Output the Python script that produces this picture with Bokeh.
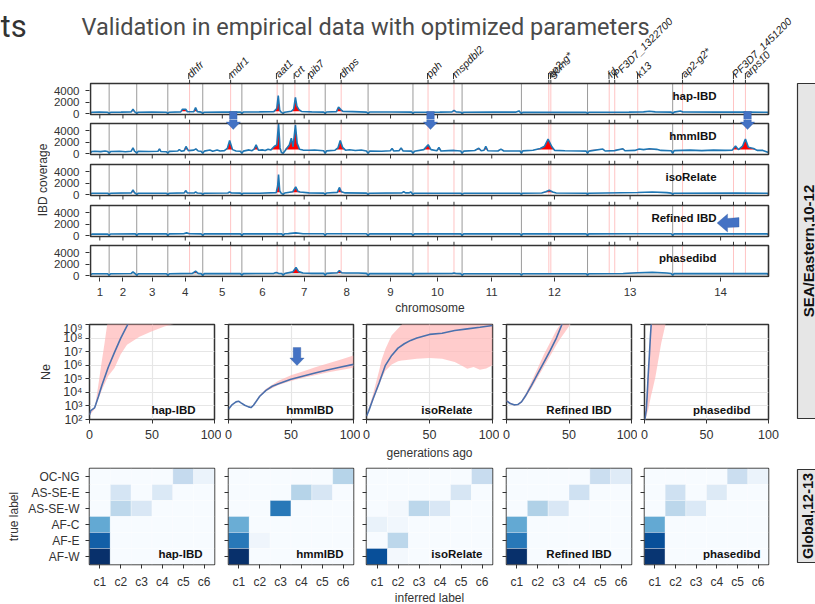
import numpy as np
from bokeh.plotting import figure
from bokeh.layouts import column, row
from bokeh.models import (Range1d, LinearAxis, LogAxis, FixedTicker, CustomJSTickFormatter,
                          PolyAnnotation, LinearColorMapper, ColumnDataSource)
from bokeh.core.properties import value
from bokeh.palettes import Blues9
from bokeh.embed import file_html
from bokeh.resources import INLINE

FONT = "Liberation Sans"
TITLE_FONT = "Roboto"
TXT = "#333333"
FRAME = "#333333"

# ---------------------------------------------------------------- data
chrom_names = [str(i) for i in range(1, 15)]
chrom_len_mb = [0.640851, 0.947102, 1.067971, 1.200490, 1.343557, 1.418242, 1.445207,
                1.472805, 1.541735, 1.687656, 2.038340, 2.271494, 2.925236, 3.291936]

gene_names = ["dhfr", "mdr1", "aat1", "crt", "pib7", "dhps", "pph", "mspdbl2", "ap2-g*", "gcm",
              "fd", "PF3D7_1322700", "k13", "ap2-g2*", "PF3D7_1451200", "arps10"]
gene_pos_mb = [3.404, 4.814, 6.413, 7.022, 7.508, 8.612, 11.596, 12.487, 15.746, 15.815,
               17.820, 18.010, 18.800, 20.340, 22.090, 22.500]

methods = ["hap-IBD", "hmmIBD", "isoRelate", "Refined IBD", "phasedibd"]

# IBD coverage along the genome: (position Mb, coverage)
cov_hapibd = [(0.00,120),(0.05,240),(0.30,260),(0.59,230),(0.641,60),(0.69,230),(1.05,260),(1.40,300),(1.46,770),(1.52,300),
    (1.54,260),(1.588,60),(1.64,240),(2.10,260),(2.61,240),(2.656,60),(2.71,250),(3.10,300),(3.16,770),(3.27,770),(3.33,320),
    (3.55,350),(3.61,1070),(3.67,350),(3.80,260),(3.856,60),(3.91,250),(4.50,270),(5.15,280),(5.200,60),(5.25,280),(5.80,300),
    (6.30,350),(6.40,900),(6.45,3150),(6.50,600),(6.56,220),(6.618,50),(6.67,250),(6.90,420),(6.98,800),(7.04,2850),(7.09,1300),
    (7.16,700),(7.25,380),(7.60,300),(8.01,260),(8.063,60),(8.11,280),(8.45,350),(8.52,1150),(8.60,700),(8.68,360),(9.00,350),
    (9.48,260),(9.536,60),(9.59,280),(10.30,290),(11.03,260),(11.078,60),(11.13,250),(12.00,260),(12.42,300),(12.49,560),
    (12.56,300),(12.72,250),(12.766,60),(12.82,240),(13.80,260),(14.60,260),(14.72,480),(14.76,260),(14.804,60),(14.85,230),
    (16.00,220),(17.03,220),(17.075,60),(17.12,230),(18.50,260),(19.00,300),(19.20,430),(19.40,300),(19.95,260),(20.001,60),
    (20.05,260),(20.27,460),(20.35,280),(21.50,260),(22.50,280),(23.25,240),(23.293,120)]

cov_hmmibd = [(0.00,150),(0.05,380),(0.15,420),(0.35,350),(0.50,460),(0.59,380),(0.641,50),(0.69,360),(1.00,420),(1.20,320),
    (1.40,420),(1.46,1000),(1.52,360),(1.54,380),(1.588,50),(1.64,400),(2.00,360),(2.32,420),(2.37,830),(2.42,360),(2.61,320),
    (2.656,50),(2.71,400),(3.00,460),(3.05,720),(3.12,420),(3.22,520),(3.28,1250),(3.36,520),(3.55,620),(3.62,830),(3.70,460),
    (3.80,420),(3.856,50),(3.91,440),(4.10,650),(4.20,420),(4.35,650),(4.45,460),(4.60,520),(4.70,900),(4.78,2300),(4.88,700),
    (5.00,460),(5.15,420),(5.200,50),(5.25,440),(5.45,650),(5.55,520),(5.62,800),(5.69,1540),(5.77,600),(5.90,650),(6.00,560),
    (6.10,780),(6.20,650),(6.32,1300),(6.40,1500),(6.46,5300),(6.51,1000),(6.56,200),(6.618,50),(6.67,400),(6.83,1500),
    (6.90,2700),(6.96,1200),(7.04,5000),(7.10,1800),(7.18,760),(7.30,620),(7.50,600),(7.70,640),(7.90,560),(8.01,500),
    (8.063,50),(8.11,480),(8.40,600),(8.50,1000),(8.58,2300),(8.66,1100),(8.76,600),(8.90,680),(9.10,560),(9.30,640),(9.48,460),
    (9.536,50),(9.59,440),(10.00,420),(10.30,500),(10.36,900),(10.42,460),(10.60,520),(10.67,1000),(10.74,460),(11.03,440),
    (11.078,50),(11.13,420),(11.45,700),(11.60,1550),(11.70,700),(11.90,500),(11.97,1070),(12.04,460),(12.30,520),(12.50,560),
    (12.72,460),(12.766,50),(12.82,440),(13.20,560),(13.34,950),(13.42,500),(13.52,600),(13.58,1250),(13.65,500),(14.00,460),
    (14.10,800),(14.20,460),(14.76,460),(14.804,50),(14.85,480),(15.20,600),(15.45,900),(15.60,1300),(15.72,2550),(15.85,1200),
    (15.95,560),(16.30,500),(16.80,460),(17.03,440),(17.075,50),(17.12,440),(17.60,800),(17.68,460),(18.00,520),(18.29,850),
    (18.36,500),(18.70,560),(18.85,800),(19.00,700),(19.20,850),(19.45,750),(19.60,560),(19.95,500),(20.001,50),(20.05,520),
    (20.60,620),(21.00,520),(21.40,620),(21.80,560),(22.05,620),(22.16,1350),(22.26,700),(22.40,1300),(22.50,2550),(22.60,1100),
    (22.78,900),(22.90,560),(23.10,560),(23.293,200)]

cov_isorelate = [(0.00,120),(0.05,230),(0.30,250),(0.59,240),(0.641,50),(0.69,240),(1.40,300),(1.46,830),(1.52,280),(1.54,260),
    (1.588,50),(1.64,240),(2.61,240),(2.656,50),(2.71,240),(3.22,300),(3.27,710),(3.33,300),(3.56,280),(3.61,470),(3.67,280),
    (3.80,250),(3.856,50),(3.91,240),(4.72,280),(4.78,470),(4.84,280),(5.15,260),(5.200,50),(5.25,250),(5.80,250),(6.38,350),
    (6.43,1500),(6.46,3500),(6.50,700),(6.55,250),(6.618,50),(6.67,280),(6.95,500),(7.05,1360),(7.12,600),(7.20,450),(7.50,300),
    (8.01,270),(8.063,50),(8.11,280),(8.48,400),(8.55,1250),(8.62,500),(8.75,300),(9.48,270),(9.536,50),(9.59,250),(10.70,300),
    (10.76,520),(10.82,300),(10.95,300),(11.00,480),(11.04,260),(11.078,50),(11.13,250),(12.72,250),(12.766,50),(12.82,230),
    (14.76,240),(14.804,50),(14.85,250),(15.50,280),(15.64,520),(15.76,770),(15.88,450),(16.00,280),(17.03,250),(17.075,50),
    (17.12,250),(18.80,380),(19.30,450),(19.80,350),(19.95,260),(20.001,50),(20.05,250),(22.20,280),(23.25,240),(23.293,120)]

cov_refined = [(0.00,120),(0.05,270),(0.59,280),(0.641,50),(0.69,290),(1.54,300),(1.588,50),(1.64,300),(2.61,300),(2.656,50),
    (2.71,310),(3.20,320),(3.30,480),(3.40,320),(3.80,300),(3.856,50),(3.91,300),(5.15,300),(5.200,50),(5.25,300),(6.57,300),
    (6.618,50),(6.67,330),(6.80,350),(7.05,480),(7.30,330),(8.01,320),(8.063,50),(8.11,330),(9.48,320),(9.536,50),(9.59,300),
    (11.03,300),(11.078,50),(11.13,300),(12.72,300),(12.766,50),(12.82,300),(14.76,300),(14.804,50),(14.85,300),(17.03,300),
    (17.075,50),(17.12,310),(18.50,330),(19.95,320),(20.001,50),(20.05,300),(23.25,300),(23.293,120)]

cov_phasedibd = [(0.00,120),(0.05,320),(0.59,330),(0.641,50),(0.69,340),(1.40,380),(1.46,650),(1.52,380),(1.54,350),(1.588,50),
    (1.64,330),(2.61,330),(2.656,50),(2.71,340),(3.50,400),(3.61,770),(3.70,400),(3.80,350),(3.856,50),(3.91,350),(5.15,350),
    (5.200,50),(5.25,350),(6.30,400),(6.38,530),(6.46,400),(6.57,380),(6.618,50),(6.67,380),(6.95,650),(7.06,1420),(7.15,700),
    (7.30,450),(7.60,400),(8.01,400),(8.063,50),(8.11,400),(8.48,500),(8.55,890),(8.63,500),(8.80,450),(9.20,450),(9.48,400),
    (9.536,50),(9.59,350),(11.03,350),(11.078,50),(11.13,350),(12.42,380),(12.49,470),(12.56,380),(12.72,350),(12.766,50),
    (12.82,330),(14.76,330),(14.804,50),(14.85,330),(17.03,330),(17.075,50),(17.12,330),(18.30,380),(18.80,500),(19.30,600),
    (19.80,450),(19.95,380),(20.001,50),(20.05,350),(22.30,380),(23.25,350),(23.293,120)]

cov_thresholds = [430, 700, 400, 420, 450]
cov_gray_under = [False, False, False, False, True]
cov_yticks = [0, 2000, 4000]

# Ne trajectories (log10 Ne) and confidence bands
ne_decades = [1e2, 1e3, 1e4, 1e5, 1e6, 1e7, 1e8, 1e9]
ne_xticks = [0, 50, 100]

ne_hapibd_gen = [0, 1, 4, 5, 7, 10, 15, 20, 25, 30, 32]
ne_hapibd_log = [2.35, 2.65, 2.85, 3.1, 3.66, 4.55, 5.85, 6.95, 8.0, 8.9, 9.3]
ne_hapibd_band_gen = [0, 4, 5, 7, 10, 12, 14, 15, 20, 25, 30, 40, 50, 60, 66, 70, 100]
ne_hapibd_band_hi = [2.45, 2.9, 3.3, 4.5, 6.4, 7.6, 8.9, 9.5, 9.5, 9.5, 9.5, 9.5, 9.5, 9.5, 9.5, 9.5, 9.5]
ne_hapibd_band_lo = [2.3, 2.75, 2.95, 3.5, 4.2, 4.6, 5.0, 5.2, 5.8, 6.8, 7.5, 8.1, 8.5, 8.85, 9.0, 9.1, 9.5]

ne_hmmibd_gen = [0, 3, 6, 8, 10, 13, 16, 18, 20, 25, 30, 35, 40, 50, 60, 70, 80, 90, 100]
ne_hmmibd_log = [2.76, 3.10, 3.30, 3.35, 3.22, 3.05, 2.93, 2.88, 3.05, 3.71, 4.15, 4.45, 4.64, 4.96, 5.21, 5.45, 5.67, 5.87, 6.06]
ne_hmmibd_band_gen = [18, 20, 25, 30, 40, 50, 60, 70, 80, 90, 100]
ne_hmmibd_band_hi = [2.9, 3.13, 3.8, 4.27, 4.85, 5.26, 5.55, 5.87, 6.15, 6.43, 6.72]
ne_hmmibd_band_lo = [2.88, 3.0, 3.65, 4.08, 4.55, 4.84, 5.07, 5.28, 5.48, 5.65, 5.82]

ne_isorelate_gen = [0, 2, 5, 10, 15, 20, 25, 30, 35, 40, 50, 60, 70, 80, 90, 100]
ne_isorelate_log = [2.25, 2.69, 3.47, 4.69, 5.99, 6.72, 7.26, 7.58, 7.83, 8.0, 8.27, 8.36, 8.56, 8.68, 8.80, 8.93]
ne_isorelate_band_gen = [0, 5, 10, 12, 15, 20, 25, 28, 30, 40, 50, 60, 70, 75, 80, 85, 90, 95, 100]
ne_isorelate_band_hi = [2.3, 3.8, 5.6, 6.4, 7.2, 8.2, 8.7, 9.0, 9.5, 9.5, 9.5, 9.5, 9.5, 9.5, 9.5, 9.5, 9.5, 9.5, 9.5]
ne_isorelate_band_lo = [2.2, 3.3, 4.5, 5.0, 5.6, 6.05, 6.3, 6.34, 6.36, 6.48, 6.53, 6.48, 6.23, 5.99, 5.74, 5.87, 5.67, 5.75, 5.99]

ne_refined_gen = [0, 3, 6, 9, 12, 15, 20, 25, 30, 35, 40, 44, 46]
ne_refined_log = [3.37, 3.18, 3.08, 3.10, 3.30, 3.71, 4.52, 5.38, 6.23, 7.09, 8.02, 8.93, 9.3]
ne_refined_band_gen = [0, 3, 6, 9, 12, 15, 20, 25, 30, 35, 40, 43, 45, 51, 55]
ne_refined_band_hi = [3.47, 3.25, 3.12, 3.15, 3.38, 3.85, 4.8, 5.8, 6.8, 7.7, 8.6, 9.0, 9.5, 9.5, 9.5]
ne_refined_band_lo = [3.3, 3.12, 3.04, 3.05, 3.22, 3.58, 4.3, 5.1, 5.9, 6.7, 7.5, 7.95, 8.2, 9.0, 9.3]

ne_phasedibd_gen = [0, 1.4, 2.1, 2.9, 4.0, 4.8, 5.4, 6]
ne_phasedibd_log = [1.8, 2.69, 3.66, 5.13, 6.85, 8.19, 9.0, 9.6]
ne_phasedibd_band_gen = [0, 0.8, 2, 2.9, 4.3, 5.4, 6, 8.8, 13.4, 16.9, 20]
ne_phasedibd_band_hi = [1.9, 2.75, 4.3, 5.4, 7.8, 9.2, 9.5, 9.5, 9.5, 9.5, 9.5]
ne_phasedibd_band_lo = [1.5, 2.0, 2.4, 2.69, 3.3, 3.8, 4.0, 5.13, 7.58, 9.0, 9.5]

# confusion heatmaps: rows top -> bottom, columns c1..c6
hm_true_labels = ["AF-W", "AF-E", "AF-C", "AS-SE-W", "AS-SE-E", "OC-NG"]   # bottom -> top
hm_inferred_labels = ["c1", "c2", "c3", "c4", "c5", "c6"]
hm_hapibd = [[0, 0, 0, 0, 0.25, 0.06],
             [0, 0.17, 0, 0.14, 0, 0],
             [0, 0.28, 0.15, 0, 0, 0],
             [0.52, 0, 0, 0, 0, 0],
             [0.82, 0, 0, 0, 0, 0],
             [1.0, 0, 0, 0, 0, 0]]
hm_hmmibd = [[0, 0, 0, 0, 0, 0.30],
             [0, 0, 0, 0.30, 0.16, 0],
             [0, 0, 0.72, 0, 0, 0],
             [0.50, 0, 0, 0, 0, 0],
             [0.72, 0.04, 0, 0, 0, 0],
             [1.0, 0, 0, 0, 0, 0]]
hm_isorelate = [[0, 0, 0, 0, 0, 0.24],
                [0, 0, 0, 0, 0.16, 0],
                [0, 0.02, 0.28, 0.15, 0, 0],
                [0.07, 0.03, 0, 0, 0, 0],
                [0, 0.28, 0, 0, 0, 0],
                [0.88, 0.02, 0, 0, 0, 0]]
hm_refined = [[0, 0, 0, 0, 0.22, 0.12],
              [0, 0, 0, 0.20, 0, 0],
              [0, 0.32, 0.15, 0, 0, 0],
              [0.52, 0, 0, 0, 0, 0],
              [0.72, 0, 0, 0, 0, 0],
              [1.0, 0, 0, 0, 0, 0]]
hm_phasedibd = [[0, 0, 0, 0, 0.22, 0.06],
                [0, 0.20, 0, 0.13, 0, 0],
                [0, 0.28, 0.14, 0, 0, 0],
                [0.52, 0, 0, 0, 0, 0],
                [0.88, 0, 0, 0, 0, 0],
                [0.98, 0, 0, 0, 0, 0]]

strip_labels = ["SEA/Eastern,10-12", "Global,12-13"]
title_text = "Validation in empirical data with optimized parameters"

# ---------------------------------------------------------------- helpers
GENOME_END = float(sum(chrom_len_mb))
chrom_end = np.cumsum(chrom_len_mb)
chrom_start = chrom_end - np.array(chrom_len_mb)
chrom_mid = chrom_start + np.array(chrom_len_mb) / 2.0

FRAME_L, FRAME_R = 89, 768          # page x of the genome panels
PX_PER_MB = (FRAME_R - FRAME_L) / GENOME_END


def mb_at(px):
    return (px - FRAME_L) / PX_PER_MB


def no_align(p):
    try:
        p.frame_align = False
    except Exception:
        pass
    return p


def plain_fig(w, h, xr, yr, t=0, b=0):
    p = figure(width=w, height=h, min_border_left=0, min_border_right=0, min_border_top=t,
               min_border_bottom=b, output_backend="svg", toolbar_location=None,
               x_axis_location=None, y_axis_location=None, title=None, x_range=xr, y_range=yr)
    p.outline_line_color = None
    p.background_fill_color = "white"
    p.border_fill_color = "white"
    p.xgrid.visible = False
    p.ygrid.visible = False
    return no_align(p)


def base_fig(w, h, l, r, t, b, **kw):
    p = figure(width=w, height=h, min_border_left=l, min_border_right=r, min_border_top=t,
               min_border_bottom=b, output_backend="svg", toolbar_location=None,
               x_axis_location=None, y_axis_location=None, title=None, **kw)
    p.outline_line_color = FRAME
    p.outline_line_width = 1.5
    p.background_fill_color = "white"
    p.border_fill_color = "white"
    p.xgrid.visible = False
    p.ygrid.visible = False
    return no_align(p)


EMPTY = CustomJSTickFormatter(code="return '';")


def style_axis(ax, font_size=None, standoff=6, tick_out=4):
    ax.axis_line_color = None
    ax.major_tick_in = 0
    ax.major_tick_out = tick_out
    ax.major_tick_line_color = FRAME
    ax.major_tick_line_width = 1
    ax.minor_tick_line_color = None
    ax.minor_tick_in = 0
    ax.minor_tick_out = 0
    ax.major_label_text_font = FONT
    ax.major_label_text_color = TXT
    if font_size is None:
        ax.formatter = EMPTY
        ax.major_label_text_font_size = "0px"
        ax.major_label_standoff = 0
    else:
        ax.major_label_text_font_size = font_size
        ax.major_label_standoff = standoff
    ax.axis_label_text_font = FONT
    ax.axis_label_text_font_style = "normal"
    ax.axis_label_text_color = TXT
    ax.axis_label_text_font_size = "12px"


def name_fmt(names, pos=None):
    if pos is None:
        return CustomJSTickFormatter(args=dict(names=names),
                                     code="return names[Math.round(tick) - 1];")
    return CustomJSTickFormatter(args=dict(names=names, pos=list(map(float, pos))), code="""
        let best = 0;
        for (let i = 0; i < pos.length; i++) {
            if (Math.abs(pos[i] - tick) < Math.abs(pos[best] - tick)) { best = i; }
        }
        return names[best];""")


ARROW_FILL, ARROW_LINE = "#4472c4", "#2f5597"


def arrow_down(cx, y0):
    xs = [cx - 3.8, cx + 3.8, cx + 3.8, cx + 7.2, cx, cx - 7.2, cx - 3.8]
    ys = [y0, y0, y0 + 10.5, y0 + 10.5, y0 + 18.0, y0 + 10.5, y0 + 10.5]
    return xs, ys


def arrow_left(tx, cy):
    xs = [tx, tx + 10.5, tx + 10.5, tx + 22.0, tx + 22.0, tx + 10.5, tx + 10.5]
    ys = [cy, cy - 9.0, cy - 4.5, cy - 5.5, cy + 4.0, cy + 4.5, cy + 9.0]
    return xs, ys


def add_arrow(p, xs, ys):
    p.add_layout(PolyAnnotation(xs=xs, ys=ys, xs_units="data", ys_units="data",
                                fill_color=ARROW_FILL, fill_alpha=1.0,
                                line_color=ARROW_LINE, line_width=1))


def text_kw(size, style="normal", color=TXT, align="center", baseline="middle"):
    return dict(text_font=value(FONT), text_font_size=size, text_font_style=style,
                text_color=color, text_align=align, text_baseline=baseline)


# ---------------------------------------------------------------- title / gene labels   (page y 0..79)
T = plain_fig(815, 79, Range1d(mb_at(0), mb_at(815)), Range1d(0, 79))
T.text(x=[mb_at(0)], y=[53], text=["ts"], text_font=value(TITLE_FONT), text_font_size="31px",
       text_color="#333333", text_align="left", text_baseline="alphabetic")
T.text(x=[mb_at(81)], y=[53], text=[title_text], text_font=value(TITLE_FONT), text_font_size="23.5px",
       text_color="#4a4a4a", text_align="left", text_baseline="alphabetic")
T.segment(x0=gene_pos_mb, y0=0, x1=gene_pos_mb, y1=6.5, line_color=FRAME, line_width=1)
T.text(x=gene_pos_mb, y=[4.0] * len(gene_pos_mb), text=gene_names, angle=45, angle_units="deg",
       **text_kw("10.5px", "italic", "#222222", "left", "middle"))

# ---------------------------------------------------------------- coverage panels   (page y 79..321)
cov_series = [cov_hapibd, cov_hmmibd, cov_isorelate, cov_refined, cov_phasedibd]
cov_fig_top = [79, 119, 160, 201, 241]         # page y where each figure starts
cov_fig_h = [40, 41, 41, 40, 80]
cov_panel_top = [83, 123, 164, 205, 245]
COV_Y0, COV_Y1, COV_PH = -150.0, 5250.0, 31.0
UNIT = (COV_Y1 - COV_Y0) / COV_PH              # coverage units per pixel


def cov_y_at(py, top):
    return COV_Y1 - (py - top) * UNIT


cov_figs = []
for i, (name, series, thr) in enumerate(zip(methods, cov_series, cov_thresholds)):
    ftop = cov_fig_top[i]
    ptop = cov_panel_top[i]
    if i < 4:
        fbot, bb = ftop + cov_fig_h[i], 0
    else:
        fbot, bb = ptop + 32, ftop + cov_fig_h[i] - (ptop + 32)
    p = base_fig(743, cov_fig_h[i], 38, 23, 0, bb,
                 x_range=Range1d(mb_at(88), mb_at(770)),
                 y_range=Range1d(cov_y_at(fbot, ptop), cov_y_at(ftop, ptop)))
    p.outline_line_color = None
    # chromosome boundaries and loci of interest
    p.segment(x0=list(chrom_end[:-1]), y0=COV_Y0, x1=list(chrom_end[:-1]), y1=COV_Y1,
              line_color="#9a9a9a", line_width=1)
    p.segment(x0=gene_pos_mb, y0=COV_Y0, x1=gene_pos_mb, y1=COV_Y1, line_color="#ffc4c4", line_width=1)
    pos = [a for a, _ in series]
    cov = np.minimum(np.array([b for _, b in series], dtype=float), COV_Y1)
    if cov_gray_under[i]:
        p.varea(x=pos, y1=0, y2=cov, fill_color="#d9d9d9")
    p.varea(x=pos, y1=thr, y2=np.maximum(cov, thr), fill_color="#ff0000")
    p.line(pos, cov, line_color="#1f77b4", line_width=1.6)
    # panel box and its tick marks
    p.quad(left=0, right=GENOME_END, bottom=COV_Y0, top=COV_Y1, fill_color=None,
           line_color=FRAME, line_width=1.6)
    p.segment(x0=gene_pos_mb, y0=COV_Y1, x1=gene_pos_mb, y1=COV_Y1 + 4 * UNIT,
              line_color=FRAME, line_width=1)
    if i < 4:
        p.segment(x0=list(chrom_mid), y0=COV_Y0, x1=list(chrom_mid), y1=COV_Y0 - 4 * UNIT,
                  line_color=FRAME, line_width=1)
    p.text(x=[mb_at(716)], y=[cov_y_at(ptop + 12, ptop)], text=[name],
           **text_kw("11.5px", "bold", "#111111", "right"))

    ax_l = LinearAxis(ticker=FixedTicker(ticks=cov_yticks))
    style_axis(ax_l, "11.5px", 6)
    p.add_layout(ax_l, "left")
    if i == 4:
        ax_b = LinearAxis(ticker=FixedTicker(ticks=list(chrom_mid)))
        style_axis(ax_b, "11.5px", 6)
        ax_b.formatter = name_fmt(chrom_names, chrom_mid)
        ax_b.axis_label = "chromosome"
        ax_b.axis_label_standoff = 2
        p.add_layout(ax_b, "below")
    cov_figs.append(p)

# arrows between hap-IBD and hmmIBD, and in Refined IBD
for cx in (232, 429.5, 747):
    xs, ys = arrow_down(cx, 111)
    for j in (0, 1):
        add_arrow(cov_figs[j], [mb_at(x) for x in xs], [cov_y_at(y, cov_panel_top[j]) for y in ys])
xs, ys = arrow_left(716.5, 222.5)
add_arrow(cov_figs[3], [mb_at(x) for x in xs], [cov_y_at(y, cov_panel_top[3]) for y in ys])

covlabel = plain_fig(50, 242, Range1d(0, 50), Range1d(321, 79))
covlabel.text(x=[42], y=[179.5], text=["IBD coverage"], angle=90, angle_units="deg", **text_kw("12px"))

# ---------------------------------------------------------------- Ne panels   (page y 321..446)
col_w = [221, 139, 139, 138, 156]
col_l = [89, 7, 6, 7, 7]
col_r = [7, 7, 7, 6, 25]
ne_name_right = [19, 20, 20, 20, 18]
hm_name_right = [12, 10, 10, 20, 8]

ne_data = [
    (ne_hapibd_gen, ne_hapibd_log, ne_hapibd_band_gen, ne_hapibd_band_lo, ne_hapibd_band_hi),
    (ne_hmmibd_gen, ne_hmmibd_log, ne_hmmibd_band_gen, ne_hmmibd_band_lo, ne_hmmibd_band_hi),
    (ne_isorelate_gen, ne_isorelate_log, ne_isorelate_band_gen, ne_isorelate_band_lo, ne_isorelate_band_hi),
    (ne_refined_gen, ne_refined_log, ne_refined_band_gen, ne_refined_band_lo, ne_refined_band_hi),
    (ne_phasedibd_gen, ne_phasedibd_log, ne_phasedibd_band_gen, ne_phasedibd_band_lo, ne_phasedibd_band_hi),
]

SUP = CustomJSTickFormatter(code=r"""
    const sup = {2: "\u00b2", 3: "\u00b3", 4: "\u2074", 5: "\u2075", 6: "\u2076", 7: "\u2077", 8: "\u2078", 9: "\u2079"};
    const e = Math.round(Math.log10(tick));
    return "10" + sup[e];""")

ne_figs = []
for i, name in enumerate(methods):
    g, lg, bg, blo, bhi = ne_data[i]
    p = base_fig(col_w[i], 125, col_l[i], col_r[i], 3, 27,
                 x_range=Range1d(0, 100), y_range=Range1d(1e2, 1e9), y_axis_type="log")
    p.xgrid.visible = True
    p.ygrid.visible = True
    p.xgrid.ticker = FixedTicker(ticks=[50])
    p.ygrid.ticker = FixedTicker(ticks=ne_decades)
    p.xgrid.grid_line_color = "#e6e6e6"
    p.ygrid.grid_line_color = "#e6e6e6"
    p.xgrid.grid_line_width = 1.2
    p.ygrid.grid_line_width = 1.2
    p.varea(x=bg, y1=10 ** np.array(blo), y2=10 ** np.array(bhi), fill_color="#ffb6b6", fill_alpha=0.7)
    p.line(g, 10 ** np.array(lg), line_color="#4a70ad", line_width=1.6)
    fw = col_w[i] - col_l[i] - col_r[i]
    p.text(x=[100.0 * (fw - ne_name_right[i]) / fw], y=[10 ** (2 + 10 * 7 / 95.0)], text=[name],
           **text_kw("11.5px", "bold", "#111111", "right"))
    ax_l = LogAxis(ticker=FixedTicker(ticks=ne_decades))
    if i == 0:
        style_axis(ax_l, "12.5px", 3)
        ax_l.formatter = SUP
        ax_l.axis_label = "Ne"
        ax_l.axis_label_standoff = 7
        ax_l.axis_label_text_font_size = "12.5px"
    else:
        style_axis(ax_l, None)
    p.add_layout(ax_l, "left")
    ax_b = LinearAxis(ticker=FixedTicker(ticks=ne_xticks))
    style_axis(ax_b, "12.5px", 6)
    p.add_layout(ax_b, "below")
    ne_figs.append(p)

xs, ys = arrow_down(296.5, 347)
add_arrow(ne_figs[1], [(x - 228) * 100 / 125.0 for x in xs], [10 ** (9 - (y - 324) * 7 / 95.0) for y in ys])

genlabel = plain_fig(793, 14, Range1d(0, 793), Range1d(460, 446))
genlabel.text(x=[429], y=[452.5], text=["generations ago"], **text_kw("12px"))

strip1 = plain_fig(22, 381, Range1d(793, 815), Range1d(460, 79))
strip1.quad(left=797, right=840, bottom=418, top=83, fill_color="#e6e6e6", line_color=FRAME, line_width=1.2)
strip1.text(x=[807.5], y=[250.5], text=[strip_labels[0]], angle=90, angle_units="deg",
            **text_kw("15px", "bold", "#111111"))

# ---------------------------------------------------------------- heatmaps   (page y 460..591)
try:
    from bokeh.palettes import interp_palette
    BLUES = list(interp_palette(list(reversed(Blues9)), 256))
except Exception:
    anchors = list(reversed(Blues9))
    rgb = np.array([[int(c[k:k + 2], 16) for k in (1, 3, 5)] for c in anchors], dtype=float)
    t = np.linspace(0, 1, 256)
    tk = np.linspace(0, 1, len(anchors))
    BLUES = ["#%02x%02x%02x" % tuple(int(round(np.interp(tt, tk, rgb[:, k]))) for k in range(3)) for tt in t]
mapper = LinearColorMapper(palette=BLUES, low=0, high=1)

hm_data = [hm_hapibd, hm_hmmibd, hm_isorelate, hm_refined, hm_phasedibd]
hm_figs = []
for i, name in enumerate(methods):
    p = base_fig(col_w[i], 131, col_l[i], col_r[i], 8, 26,
                 x_range=Range1d(0.5, 6.5), y_range=Range1d(0.5, 6.5))
    mat = hm_data[i]
    xs_c, ys_c, vals = [], [], []
    for r, rowvals in enumerate(mat):
        for c, v in enumerate(rowvals):
            xs_c.append(c + 1)
            ys_c.append(6 - r)
            vals.append(v)
    src = ColumnDataSource(dict(x=xs_c, y=ys_c, v=vals))
    p.rect(x="x", y="y", width=1, height=1, source=src, fill_color={"field": "v", "transform": mapper},
           line_color="white", line_width=0.6, line_alpha=0.5)
    fw = col_w[i] - col_l[i] - col_r[i]
    p.text(x=[0.5 + 6.0 * (fw - hm_name_right[i]) / fw], y=[0.5 + 11 * 6 / 97.0], text=[name],
           **text_kw("11.5px", "bold", "#111111", "right"))
    ax_l = LinearAxis(ticker=FixedTicker(ticks=[1, 2, 3, 4, 5, 6]))
    if i == 0:
        style_axis(ax_l, "12px", 6)
        ax_l.formatter = name_fmt(hm_true_labels)
        ax_l.axis_label = "true label"
        ax_l.axis_label_standoff = 4
    else:
        style_axis(ax_l, None)
    p.add_layout(ax_l, "left")
    ax_b = LinearAxis(ticker=FixedTicker(ticks=[1, 2, 3, 4, 5, 6]))
    style_axis(ax_b, "12px", 6)
    ax_b.formatter = name_fmt(hm_inferred_labels)
    p.add_layout(ax_b, "below")
    hm_figs.append(p)

# strip for the heatmap row: same borders as the heatmaps, page coordinates in its frame
strip2 = plain_fig(22, 131, Range1d(793, 815), Range1d(565, 468), t=8, b=26)
strip2.quad(left=797, right=840, bottom=562, top=469, fill_color="#e6e6e6", line_color=FRAME, line_width=1.2)
strip2.text(x=[807.5], y=[515.5], text=[strip_labels[1]], angle=90, angle_units="deg",
            **text_kw("14.5px", "bold", "#111111"))

inflabel = plain_fig(815, 13, Range1d(0, 815), Range1d(604, 591))
inflabel.text(x=[429], y=[597.5], text=["inferred label"], **text_kw("12px"))

# ---------------------------------------------------------------- layout
cov_block = row(covlabel, column(*cov_figs))
mid = row(column(cov_block, row(*ne_figs), genlabel), strip1)
bottom = row(*hm_figs, strip2)
layout = column(T, mid, bottom, inflabel)

with open("out.html", "w", encoding="utf-8") as f:
    f.write(file_html(layout, INLINE))
